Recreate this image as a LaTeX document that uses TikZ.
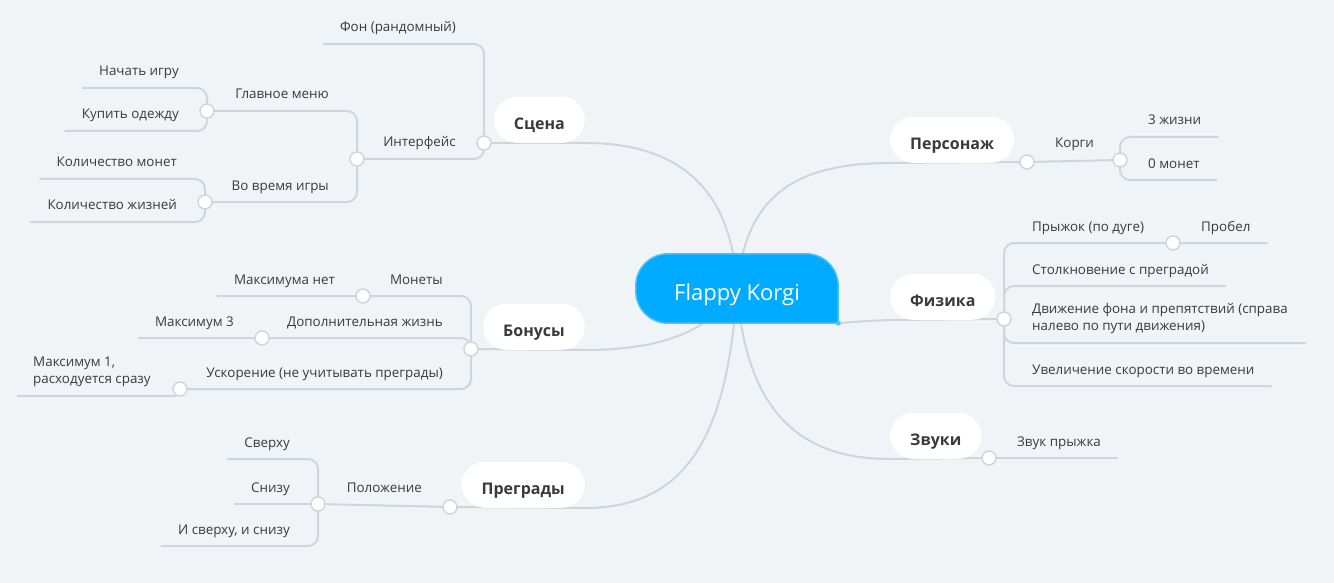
\documentclass[tikz,border=0pt]{standalone}
\usepackage{fontspec}
\setmainfont{Open Sans}
\usetikzlibrary{positioning}
\pgfdeclarelayer{bg}
\pgfsetlayers{bg,main}
\definecolor{paper}{HTML}{F0F4F7}
\definecolor{wire}{HTML}{CFD5DA}
\definecolor{ink}{HTML}{3A3A3A}
\definecolor{korgi}{HTML}{00AAFF}
\definecolor{korgiedge}{HTML}{4CC2FA}

\begin{document}
\begin{tikzpicture}[x=1pt,y=-1pt,
    topic/.style={fill=white, rounded corners=23pt, minimum height=46pt,
        inner xsep=20pt, inner ysep=0pt, text height=19pt, text depth=0pt,
        font=\fontsize{16}{19}\selectfont\bfseries, text=ink},
    leaf/.style={font=\fontsize{13.4}{17}\selectfont, text=ink, inner sep=0pt},
    lleaf/.style={leaf, anchor=base east},
    rleaf/.style={leaf, anchor=base west},
    dot/.style={circle, draw=wire, fill=white, line width=1.5pt,
        minimum size=14pt, inner sep=0pt},
    link/.style={draw=wire, line width=2pt},
    fork/.style={link, rounded corners=10pt}]

\useasboundingbox (0,0) rectangle (1334,583);

\node[minimum width=202pt, minimum height=69pt, inner sep=0pt] (root) at (737,288.5) {};
\filldraw[fill=korgi, draw=korgiedge, line width=1.5pt]
    (root.south east) -- ([xshift=32pt]root.south west)
    arc[start angle=270, end angle=180, radius=32pt] -- ([yshift=-32pt]root.north west)
    arc[start angle=180, end angle=90, radius=32pt] -- ([xshift=-32pt]root.north east)
    arc[start angle=90, end angle=0, radius=32pt] -- cycle;
\fill[korgiedge] (root.south east) circle[radius=2.5pt];
\node[anchor=base, text=white, font=\fontsize{22}{26}\selectfont] (rootT) at (737,300) {Flappy Korgi};

\node[topic, anchor=south east] (sc) at (585,143) {Сцена};
\node[topic, anchor=south east] (bon) at (585,350) {Бонусы};
\node[topic, anchor=south east] (pr) at (585,508) {Преграды};
\node[topic, anchor=south west] (pers) at (890,163) {Персонаж};
\node[topic, anchor=south west] (fiz) at (890,320) {Физика};
\node[topic, anchor=south west] (zv) at (890,459) {Звуки};

\node[dot] (scD) at (484,143) {};
\node[dot] (intD) at (357,159) {};
\node[dot] (menuD) at (207,111) {};
\node[dot] (gameD) at (205,202) {};
\node[dot] (bonD) at (471,349) {};
\node[dot] (coinsD) at (363,296) {};
\node[dot] (lifeD) at (262,338) {};
\node[dot] (spdD) at (180,389) {};
\node[dot] (prD) at (450,507) {};
\node[dot] (polD) at (318,504) {};
\node[dot] (persD) at (1027,162) {};
\node[dot] (korD) at (1120,160) {};
\node[dot] (fizD) at (1004,319) {};
\node[dot] (jumpD) at (1173,243) {};
\node[dot] (zvD) at (989,458) {};

\node[lleaf] (fon) at (456,32) {Фон (рандомный)};
\node[lleaf] (int) at (456,147) {Интерфейс};
\node[lleaf] (menu) at (329,99) {Главное меню};
\node[lleaf] (game) at (329,190) {Во время игры};
\node[lleaf] (start) at (179,76) {Начать игру};
\node[lleaf] (buy) at (179,119) {Купить одежду};
\node[lleaf] (coins) at (177,167) {Количество монет};
\node[lleaf] (lives) at (177,210) {Количество жизней};
\node[lleaf] (coinsL) at (443,284) {Монеты};
\node[lleaf] (lifeL) at (443,326) {Дополнительная жизнь};
\node[lleaf] (spdL) at (443,377) {Ускорение (не учитывать преграды)};
\node[lleaf] (max) at (335,284) {Максимума нет};
\node[lleaf] (max3) at (234,326) {Максимум 3};
\node[leaf, anchor=west, align=left] (max1) at (33,372) {Максимум 1,\\расходуется сразу};
\node[lleaf] (pol) at (422,492) {Положение};
\node[lleaf] (top) at (290,447) {Сверху};
\node[lleaf] (bot) at (290,492) {Снизу};
\node[lleaf] (both) at (290,534) {И сверху, и снизу};
\node[rleaf] (kor) at (1055,148) {Корги};
\node[rleaf] (life3) at (1148,125) {3 жизни};
\node[rleaf] (coin0) at (1148,168) {0 монет};
\node[rleaf] (jump) at (1032,231) {Прыжок (по дуге)};
\node[rleaf] (space) at (1201,231) {Пробел};
\node[rleaf] (col) at (1032,274) {Столкновение с преградой};
\node[leaf, anchor=west, align=left] (mov) at (1032,319) {Движение фона и препятствий (справа\\налево по пути движения)};
\node[rleaf] (acc) at (1032,374) {Увеличение скорости во времени};
\node[rleaf] (snd) at (1017,446) {Звук прыжка};

\coordinate (fonE) at ([shift={(-17pt,-12pt)}]fon.base west);
\coordinate (startE) at ([shift={(-17pt,-12pt)}]start.base west);
\coordinate (buyE) at ([shift={(-17pt,-12pt)}]buy.base west);
\coordinate (coinsE) at ([shift={(-17pt,-12pt)}]coins.base west);
\coordinate (livesE) at ([shift={(-17pt,-12pt)}]lives.base west);
\coordinate (maxE) at ([shift={(-17pt,-12pt)}]max.base west);
\coordinate (max3E) at ([shift={(-17pt,-12pt)}]max3.base west);
\coordinate (max1E) at (17,396);
\coordinate (topE) at ([shift={(-17pt,-12pt)}]top.base west);
\coordinate (botE) at ([shift={(-17pt,-12pt)}]bot.base west);
\coordinate (bothE) at ([shift={(-17pt,-12pt)}]both.base west);
\coordinate (life3E) at ([shift={(17pt,-12pt)}]life3.base east);
\coordinate (coin0E) at ([shift={(17pt,-12pt)}]coin0.base east);
\coordinate (spaceE) at ([shift={(17pt,-12pt)}]space.base east);
\coordinate (colE) at ([shift={(17pt,-12pt)}]col.base east);
\coordinate (movE) at (1306,343);
\coordinate (accE) at ([shift={(17pt,-12pt)}]acc.base east);
\coordinate (sndE) at ([shift={(17pt,-12pt)}]snd.base east);

\begin{pgfonlayer}{bg}
\fill[paper] (0,0) rectangle (1334,583);
\draw[link] (root.center) .. controls (733,200) and (690,143) .. (sc.south east) -- (scD.center);
\draw[link] (root.center) .. controls (718,320) and (680,350) .. (bon.south east) -- (bonD.center);
\draw[link] (root.center) .. controls (728,430) and (690,508) .. (pr.south east) -- (prD.center);
\draw[link] (root.center) .. controls (745,200) and (790,163) .. (pers.south west) -- (persD.center);
\draw[link] (root.south east) .. controls (865,321) .. (fiz.south west) -- (fizD.center);
\draw[link] (root.center) .. controls (745,400) and (790,459) .. (zv.south west) -- (zvD.center);

\draw[fork] (scD.center) |- (fonE);
\draw[fork] (scD.center) |- (intD.center);
\draw[fork] (intD.center) |- (menuD.center);
\draw[fork] (intD.center) |- (gameD.center);
\draw[fork] (menuD.center) |- (startE);
\draw[fork] (menuD.center) |- (buyE);
\draw[fork] (gameD.center) |- (coinsE);
\draw[fork] (gameD.center) |- (livesE);

\draw[fork] (bonD.center) |- (coinsD.center) -- (maxE);
\draw[fork] (bonD.center) |- (lifeD.center) -- (max3E);
\draw[fork] (bonD.center) |- (spdD.center);
\draw[link, rounded corners=5pt] (spdD.center) |- (max1E);

\draw[link] (prD.center) -- (polD.center);
\draw[fork] (polD.center) |- (topE);
\draw[link] (polD.center) -- (botE);
\draw[fork] (polD.center) |- (bothE);

\draw[link] (persD.center) -- (korD.center);
\draw[fork] (korD.center) |- (life3E);
\draw[fork] (korD.center) |- (coin0E);

\draw[fork] (fizD.center) |- (jumpD.center) -- (spaceE);
\draw[fork] (fizD.center) |- (colE);
\draw[fork] (fizD.center) |- (movE);
\draw[fork] (fizD.center) |- (accE);

\draw[link] (zvD.center) -- (sndE);
\end{pgfonlayer}
\end{tikzpicture}
\end{document}
